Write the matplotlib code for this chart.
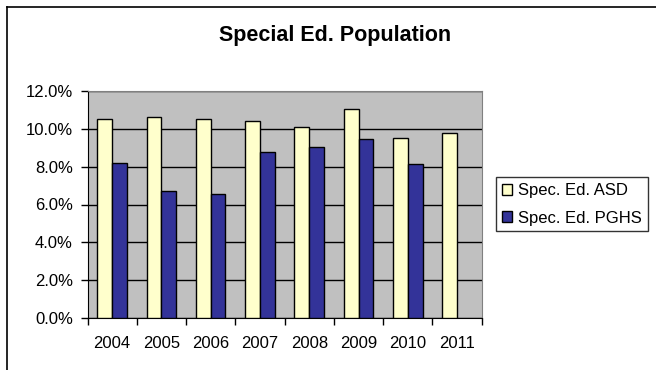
import matplotlib
matplotlib.use("Agg")
import matplotlib.pyplot as plt
import numpy as np
from matplotlib.lines import Line2D
from matplotlib.ticker import FuncFormatter, MultipleLocator

years = ["2004", "2005", "2006", "2007", "2008", "2009", "2010", "2011"]
asd = [10.53, 10.60, 10.53, 10.40, 10.10, 11.05, 9.53, 9.80]
pghs = [8.20, 6.70, 6.55, 8.80, 9.02, 9.46, 8.14, np.nan]

plt.rcParams['font.family'] = ['Liberation Sans', 'DejaVu Sans']

W, H = 656, 370
fig = plt.figure(figsize=(W / 100, H / 100), dpi=100)
ax = fig.add_axes([87.5 / W, 1 - 318 / H, (481.7 - 87.5) / W, (318 - 91) / H])
ax.set_facecolor('#C0C0C0')

x = np.arange(len(years))
bw = 0.3
ax.bar(x - bw / 2, asd, bw, color='#FFFFCC', edgecolor='black', linewidth=1,
       label='Spec. Ed. ASD', zorder=3)
ax.bar(x + bw / 2, pghs, bw, color='#333399', edgecolor='black', linewidth=1,
       label='Spec. Ed. PGHS', zorder=3)

ax.set_xlim(-0.5, len(years) - 0.5)
ax.set_ylim(0, 12)
ax.yaxis.set_major_locator(MultipleLocator(2))
ax.yaxis.set_major_formatter(FuncFormatter(lambda v, p: f"{v:.1f}%"))
ax.grid(axis='y', color='black', linewidth=1, zorder=1)
ax.set_axisbelow(True)

ax.set_xticks(x)
ax.set_xticklabels(years)
ax.set_xticks(np.arange(-0.5, len(years)), minor=True)
ax.tick_params(axis='x', which='major', length=0, pad=13, labelsize=12)
ax.tick_params(axis='x', which='minor', length=5, width=1, direction='out')
ax.tick_params(axis='y', length=5, width=1, pad=5.5, labelsize=12)

for s in ['top', 'right']:
    ax.spines[s].set_color('#808080')
for s in ['left', 'bottom']:
    ax.spines[s].set_color('black')

fig.text(335 / W, 1 - 35.5 / H, "Special Ed. Population", ha='center', va='center',
         fontsize=15.5, fontweight='bold')

leg = fig.legend(loc='upper left', bbox_to_anchor=(495.7 / W, 1 - 177.3 / H),
                 borderaxespad=0, fontsize=12, frameon=True, fancybox=False,
                 handlelength=0.65, handleheight=0.65, handletextpad=0.35,
                 labelspacing=0.75, borderpad=0.35)
leg.get_frame().set_edgecolor('black')
leg.get_frame().set_linewidth(1)

# chart area border, top and left edges
fig.add_artist(Line2D([7 / W, 7 / W], [0, 1 - 7 / H], color='black', linewidth=1.2))
fig.add_artist(Line2D([7 / W, 1], [1 - 7 / H, 1 - 7 / H], color='black', linewidth=1.2))

fig.savefig("out.png", dpi=100)
